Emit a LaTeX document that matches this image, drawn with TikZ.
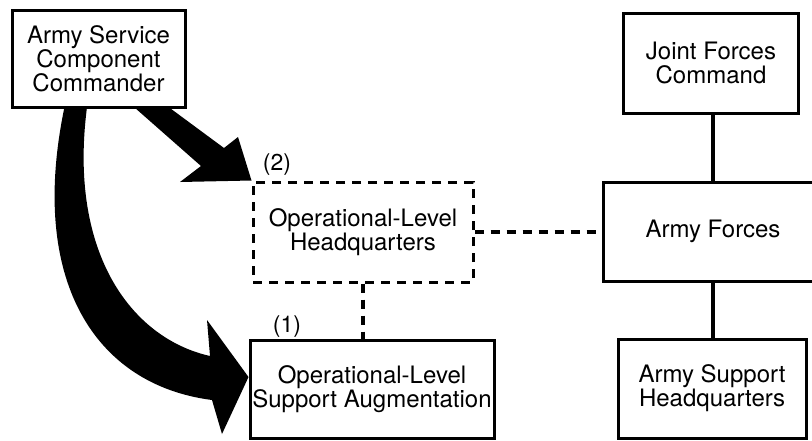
\documentclass[tikz,border=0pt]{standalone}
\usepackage{fontspec}
\setmainfont{TeX Gyre Heros}
\usetikzlibrary{calc}
\pgfdeclarelayer{back}
\pgfsetlayers{back,main}
\begin{document}
\begin{tikzpicture}[x=1pt,y=-1pt,
  box/.style={draw, line width=3pt, fill=white, inner sep=0pt, align=center,
    font=\fontsize{24}{24}\selectfont},
  dashbox/.style={box, dash pattern=on 9pt off 7pt},
  link/.style={line width=3.4pt},
  dlink/.style={line width=3.4pt, dash pattern=on 9pt off 7pt},
  lbl/.style={inner sep=0pt, font=\fontsize{23}{23}\selectfont},
  bigarrow/.style={fill=black}]
\useasboundingbox (0,0) rectangle (812,440);
\clip (0,0) rectangle (812,440);

% boxes
\node[box, minimum width=173pt, minimum height=97pt] (ascc) at (98.5,58.5)
  {Army Service\\Component\\Commander};
\node[box, minimum width=175pt, minimum height=100pt] (jfc) at (711,63)
  {Joint Forces\\Command};
\node[dashbox, minimum width=220pt, minimum height=100pt] (hq) at (363,232)
  {Operational-Level\\Headquarters};
\node[box, minimum width=220pt, minimum height=99pt] (af) at (713,231.5)
  {Army Forces};
\node[box, minimum width=244pt, minimum height=98pt] (augm) at (372,389)
  {Operational-Level\\Support Augmentation};
\node[box, minimum width=188pt, minimum height=99pt] (ash) at (712,388.5)
  {Army Support\\Headquarters};

% option labels
\node[lbl] (n2) at (277,165) {(2)};
\node[lbl] (n1) at (287,327) {(1)};

% command links
\draw[link] (af.north) -- (af.north |- jfc.south);
\draw[link] (af.south) -- (af.south |- ash.north);
\draw[dlink] (hq.east) -- (hq.east -| af.west);
\draw[dlink] (hq.south) -- (hq.south |- augm.north);

% heavy arrows from the ASCC
\begin{pgfonlayer}{back}
\fill[bigarrow] (126,100) -- (201,166) -- (180,182) -- (hq.north west)
  -- (238,137) -- (224,148) -- (159,100) -- cycle;
\fill[bigarrow] (66,100) .. controls (26,280) and (95,385) .. (212,400)
  -- (222,434) -- ($(augm.west)+(0,-12)$) -- (207,320) -- (210,356)
  .. controls (130,338) and (66,250) .. (88,100) -- cycle;
\end{pgfonlayer}
\end{tikzpicture}
\end{document}
